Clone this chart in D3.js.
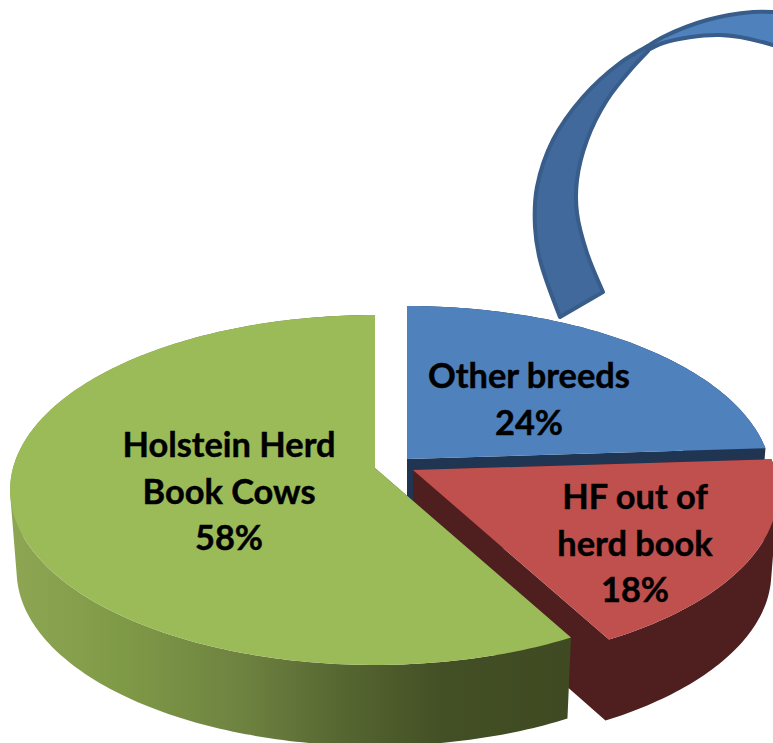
<!DOCTYPE html>
<html>
<head>
<meta charset="utf-8">
<script src="https://cdn.jsdelivr.net/npm/d3@7/dist/d3.min.js"></script>
<style>
html,body{margin:0;padding:0;background:#fff;overflow:hidden}
svg{display:block}
text{font-family:Lato,"Open Sans",sans-serif;font-weight:700;fill:#000;stroke:#000;stroke-width:0.45px;font-size:34.4px;text-anchor:middle}
</style>
</head>
<body>
<svg id="c" width="773" height="743"></svg>
<script>
// Data, in clockwise order from 12 o'clock
const categories = ["Other breeds", "HF out of herd book", "Holstein Herd Book Cows"];
const values = [24, 18, 58];
const labelLines = [["Other breeds"], ["HF out of", "herd book"], ["Holstein Herd", "Book Cows"]];
const topColors = ["#4f81bd", "#c0504d", "#9bbb59"];
const wallColors = ["#1f3552", "#4f1f1f", "url(#greenWall)"];

// Layout
const apexes = [[407, 459], [413, 470], [375, 468]];
const labelCentres = [[529, 388], [635, 509], [229, 457]];
const lineStep = 46.5;
const A = 362, B = 172.2, K = 0.1257, DEPTH = 81, BASE_SCALE = 0.982;

// Decorative curved arrow outline
const arrowFrontOuter = [[560,317],[540,260],[535,227],[537,187],[553,140],[583,97],[620,63],[648,46]];
const arrowFrontInner = [[648,51],[633,67],[607,100],[587,140],[577,180],[577,213],[587,253],[603,292]];
const arrowBackOuter = [[645,48],[663,37],[707,20],[753,12],[773,12],[800,15]];
const arrowBackInner = [[800,56],[773,45],[720,35],[663,43],[645,52]];

const svg = d3.select("#c");
const grad = svg.append("defs").append("linearGradient")
  .attr("id", "greenWall").attr("gradientUnits", "userSpaceOnUse")
  .attr("x1", 10).attr("x2", 565).attr("y1", 0).attr("y2", 0);
[[0,"#8ea654"],[0.2,"#7f9a47"],[0.42,"#6e8240"],[0.6,"#566631"],[0.78,"#434f25"],[1,"#3f4a22"]]
  .forEach(([o,c]) => grad.append("stop").attr("offset", o).attr("stop-color", c));

const pie = d3.pie().sort(null).startAngle(0).endAngle(2 * Math.PI);
const arcs = pie(values);

function project(theta, r, apex) {
  const X = r * Math.sin(theta), Y = -r * Math.cos(theta), w = 1 - K * Y;
  return [apex[0] + A * X / w, apex[1] + B * Y / w];
}
function base(p, apex) {
  return [apex[0] + (p[0] - apex[0]) * BASE_SCALE, p[1] + DEPTH];
}
const line = d3.line();
const curve = d3.line().curve(d3.curveCatmullRom);
const joined = (a, b) => curve(a) + "L" + curve(b).slice(1) + "Z";
// quad with a fixed winding, so that a single path fills every overlap
const quad = (p, q, toBase) => {
  const pts = [p, q, toBase(q), toBase(p)];
  return line(d3.polygonArea(pts) < 0 ? pts.reverse() : pts) + "Z";
};

// arrow back part is behind the front part
const arrow = svg.append("g").attr("stroke", "#385d8a").attr("stroke-width", 4).attr("stroke-linejoin", "round");
arrow.append("path").attr("d", joined(arrowBackOuter, arrowBackInner)).attr("fill", "#4f81bd");
arrow.append("path").attr("d", joined(arrowFrontOuter, arrowFrontInner)).attr("fill", "#41699b");

// slices, back to front
arcs.forEach((a, i) => {
  const apex = apexes[i];
  const n = Math.max(8, Math.round((a.endAngle - a.startAngle) * 60));
  const rim = d3.range(n + 1).map(k => project(a.startAngle + (a.endAngle - a.startAngle) * k / n, 1, apex));
  const toBase = p => base(p, apex);
  const g = svg.append("g").attr("class", "slice").datum(categories[i]);
  const outline = [apex, ...rim, apex];
  const wallPath = d3.range(outline.length - 1).map(k => quad(outline[k], outline[k + 1], toBase)).join("");
  g.append("path").attr("d", wallPath).attr("fill", wallColors[i]);
  g.append("path").attr("d", line([apex, ...rim]) + "Z").attr("fill", topColors[i]);
});

// labels
arcs.forEach((a, i) => {
  const [x, y] = labelCentres[i];
  const lines = [...labelLines[i], d3.format(".0f")(values[i]) + "%"];
  lines.forEach((t, k) => {
    svg.append("text").attr("x", x).attr("y", y + k * lineStep).text(t);
  });
});
</script>
</body>
</html>
